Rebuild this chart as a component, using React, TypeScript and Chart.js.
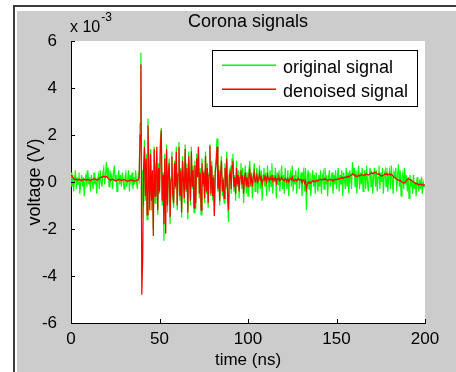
import React, { useEffect, useRef } from "react";
import { Chart, registerables } from "chart.js";

Chart.register(...registerables);

// sample spacing in ns
const dt = 0.5;

// values in units of 1e-3 V
const originalSignal = [
  0.4, -0.2, 0.3, -0.4, 0.1, 0.5, -0.3, 0.2, -0.1, 0.4, -0.5, 0.0, 0.3, -0.2, 0.2, -0.6, 0.1, 0.3, -0.2, 0.5,
  -0.1, 0.2, -0.4, 0.3, 0.0, -0.3, 0.4, -0.1, 0.2, -0.5, 0.1, 0.3, -0.3, 0.5, 0.0, -0.2, 0.4, 0.6, -0.1, 0.3,
  0.85, 0.2, 0.6, -0.2, 0.5, 0.1, 0.3, -0.3, 0.4, 0.7, 0.0, 0.3, -0.4, 0.2, 0.5, -0.1, 0.3, -0.2, 0.4, 0.1,
  -0.3, 0.2, 0.4, -0.2, 0.1, 0.5, -0.4, 0.3, 0.0, 0.4, -0.3, 0.2, -0.1, 0.5, 0.0, -0.3, 0.3, 0.1, 2.5, 5.5,
  -1.5, 0.5, -1.0, 1.8, -0.8, 1.2, -1.6, 2.7, 0.9, -0.6, 1.4, -1.2, 0.3, -2.0, 1.5, -0.9, 0.6, 1.1, -1.4, 0.8,
  -0.5, 1.8, 2.3, -1.0, 0.4, -2.5, 1.2, -0.7, 1.6, -1.3, 0.5, 1.0, -1.8, 0.2, 1.3, -0.6, -1.1, 0.9, -0.3, 1.5,
  -1.2, 0.4, 1.7, -0.8, 0.6, -1.5, 1.1, 0.2, -0.9, 1.6, -0.4, 0.8, -1.6, 1.3, 0.1, -1.0, 1.5, -0.3, 0.7, -1.3,
  0.9, -1.15, 1.2, 0.3, 1.5, -0.7, 0.6, -1.4, 1.0, -0.2, 0.5, -0.9, 1.3, -0.5, 0.8, -1.1, 0.4, 1.6, -0.6, 0.9,
  -0.8, 0.3, -1.45, 0.6, 1.0, 1.85, -0.4, 0.7, -1.0, 0.4, 1.1, -0.6, 0.2, -0.9, 0.8, -0.3, 1.3, -0.8, -1.7, 0.5,
  0.6, -0.5, 1.0, 1.2, -0.4, 0.3, -0.8, 0.9, -0.2, 0.5, -0.7, 0.4, 0.8, -0.3, 0.6, -0.9, 0.2, 0.7, -0.5, 0.4,
  -0.6, 0.5, 0.9, -0.2, 0.4, -0.7, 0.3, 0.8, -0.4, 0.2, 0.6, -0.5, 0.1, 0.7, -0.3, 0.5, -0.8, 0.3, 0.6, -0.2,
  0.4, -0.6, 0.7, 0.1, -0.4, 0.5, -0.2, 0.8, -0.5, 0.3, 0.0, 0.6, -0.7, 0.4, -0.1, 0.5, -0.4, 0.2, 0.7, -0.3,
  0.3, -0.5, 0.6, 0.0, -0.3, 0.5, -0.6, 0.2, 0.4, -0.2, 0.7, -0.4, 0.3, -0.1, 0.5, -0.5, 0.2, 0.6, -0.3, 0.1,
  0.4, -0.6, 0.3, 0.5, -0.4, 0.6, -1.2, 0.2, 0.5, -0.3, 0.4, -0.6, 0.1, 0.5, -0.2, 0.3, -0.5, 0.4, 0.0, -0.4,
  0.3, -0.2, 0.5, -0.5, 0.2, 0.4, -0.3, 0.6, -0.1, 0.3, -0.6, 0.2, 0.5, -0.2, 0.1, 0.4, -0.5, 0.3, -0.1, 0.5,
  -0.3, 0.2, 0.6, -0.4, 0.3, -0.1, 0.5, -0.6, 0.4, 0.1, -0.3, 0.6, -0.2, 0.4, -0.5, 0.5, 0.2, -0.3, 0.85, 0.3,
  0.6, -0.2, 0.5, -0.5, 0.3, 0.7, -0.3, 0.4, -0.1, 0.6, -0.4, 0.2, 0.5, -0.3, 0.7, 0.0, -0.4, 0.3, 0.6, -0.2,
  0.4, -0.5, 0.3, 0.6, -0.2, 0.5, -0.4, 0.2, 0.7, -0.3, 0.4, 0.0, 0.6, -0.5, 0.3, 0.5, -0.2, 0.6, -0.4, 0.3,
  0.5, -0.3, 0.7, 0.1, -0.5, 0.4, 0.2, 0.6, -0.4, 0.3, 0.75, -0.2, 0.5, -0.6, 0.2, 0.4, -0.3, 0.6, -0.1, 0.3,
  -0.4, 0.2, -0.7, 0.3, -0.2, 0.1, -0.5, 0.3, -0.3, 0.0, -0.6, 0.2, -0.1, -0.4, 0.1, -0.3, 0.2, -0.5, 0.0, -0.2,
  -0.2,
];

const denoisedSignal = [
  0.3, 0.25, 0.2, 0.15, 0.1, 0.12, 0.1, 0.08, 0.1, 0.12, 0.1, 0.08, 0.05, 0.08, 0.1, 0.12, 0.1, 0.08, 0.1, 0.12,
  0.1, 0.08, 0.06, 0.08, 0.1, 0.12, 0.14, 0.12, 0.1, 0.08, 0.1, 0.12, 0.15, 0.18, 0.2, 0.22, 0.2, 0.25, 0.22, 0.2,
  0.25, 0.2, 0.15, 0.12, 0.1, 0.08, 0.1, 0.12, 0.1, 0.08, 0.06, 0.05, 0.08, 0.1, 0.12, 0.1, 0.08, 0.06, 0.08, 0.1,
  0.1, 0.08, 0.06, 0.05, 0.04, 0.05, 0.06, 0.08, 0.1, 0.08, 0.06, 0.05, 0.04, 0.05, 0.06, 0.08, 0.1, 0.2, 2.0, 5.0,
  -4.8, -3.3, 0.6, 1.5, -0.6, 1.0, -1.4, 2.4, 0.5, -1.2, 1.2, -0.8, 0.5, -2.3, 1.4, -0.6, 0.3, 1.5, -1.2, 0.6,
  -0.4, 1.5, 2.2, -0.8, 0.3, -1.8, 1.0, -2.2, 1.4, -1.0, 0.4, 0.8, -1.5, 0.1, 1.1, -0.5, -0.9, 0.8, -0.2, 1.3,
  -1.0, 0.3, 1.5, -0.6, 0.5, -1.3, 0.9, 0.1, -0.7, 1.4, -0.3, 0.6, -1.3, 1.1, 0.1, -0.8, 1.3, -0.2, 0.5, -1.1,
  0.7, -0.9, 1.0, 0.2, 1.5, -0.5, 0.4, -1.2, 0.8, -0.1, 0.4, -0.7, 1.1, -0.4, 0.6, -0.9, 0.3, 1.55, -0.5, 0.7,
  -0.6, 0.2, -1.45, 0.4, 0.8, 1.5, -0.3, 0.5, -0.8, 0.3, 0.9, -0.4, 0.1, -0.7, 0.6, -0.2, 1.0, -0.6, -1.2, 0.3,
  0.4, -0.3, 0.7, 0.9, -0.2, 0.2, -0.5, 0.6, -0.1, 0.3, -0.4, 0.2, 0.5, -0.1, 0.3, -0.5, 0.1, 0.4, -0.2, 0.2,
  -0.2, 0.3, 0.5, 0.0, 0.2, -0.2, 0.2, 0.4, 0.0, 0.1, 0.3, 0.0, 0.1, 0.35, 0.1, 0.2, -0.1, 0.1, 0.3, 0.1,
  0.2, 0.0, 0.3, 0.15, 0.05, 0.2, 0.1, 0.3, 0.05, 0.15, 0.1, 0.2, -0.05, 0.15, 0.1, 0.2, 0.05, 0.1, 0.2, 0.1,
  0.1, 0.05, 0.15, 0.1, 0.05, 0.15, 0.0, 0.1, 0.15, 0.1, 0.2, 0.05, 0.1, 0.08, 0.12, 0.05, 0.1, 0.15, 0.08, 0.1,
  0.1, 0.0, 0.05, 0.1, -0.05, 0.05, -0.3, -0.1, 0.0, -0.05, 0.0, -0.05, 0.0, 0.05, 0.02, 0.05, 0.0, 0.05, 0.08, 0.05,
  0.08, 0.1, 0.12, 0.08, 0.1, 0.12, 0.1, 0.15, 0.12, 0.1, 0.05, 0.08, 0.12, 0.1, 0.08, 0.1, 0.05, 0.08, 0.1, 0.12,
  0.1, 0.12, 0.15, 0.12, 0.15, 0.18, 0.2, 0.15, 0.18, 0.2, 0.18, 0.22, 0.2, 0.25, 0.22, 0.25, 0.28, 0.3, 0.35, 0.3,
  0.3, 0.25, 0.28, 0.22, 0.25, 0.3, 0.25, 0.28, 0.3, 0.32, 0.3, 0.28, 0.32, 0.3, 0.35, 0.32, 0.3, 0.32, 0.35, 0.38,
  0.4, 0.35, 0.38, 0.42, 0.4, 0.38, 0.35, 0.32, 0.35, 0.3, 0.28, 0.25, 0.28, 0.3, 0.32, 0.35, 0.32, 0.35, 0.3, 0.32,
  0.35, 0.3, 0.32, 0.3, 0.25, 0.2, 0.18, 0.15, 0.12, 0.1, 0.08, 0.05, 0.08, 0.02, 0.0, -0.02, -0.05, -0.02, 0.0, 0.05,
  0.1, 0.15, 0.12, 0.1, 0.08, 0.05, 0.02, 0.0, -0.02, -0.05, -0.08, -0.05, -0.1, -0.12, -0.1, -0.08, -0.12, -0.1, -0.15, -0.12,
  -0.12,
];

const xTicks = [0, 50, 100, 150, 200];
const yTicks = [-6, -4, -2, 0, 2, 4, 6];
const seriesLabels = ["original signal", "denoised signal"];
const seriesColors = ["#00ff00", "#ff0000"];
const titleText = "Corona signals";
const xTitle = "time (ns)";
const yTitle = "voltage (V)";
const exponentText = "-3";

const FONT = "'Liberation Sans', Arial, Helvetica, sans-serif";

const toPoints = (vals: number[]) => vals.map((v, i) => ({ x: i * dt, y: v }));

const decorPlugin = {
  id: "decor",
  beforeDraw(chart: any) {
    const ctx = chart.ctx;
    const { width, height, chartArea } = chart;
    ctx.save();
    ctx.fillStyle = "#ffffff";
    ctx.fillRect(0, 0, width, height);
    ctx.fillStyle = "#3c3c3c";
    ctx.fillRect(13, 5, width - 13, 2);
    ctx.fillRect(13, 5, 2, height - 5);
    ctx.fillStyle = "#cccccc";
    ctx.fillRect(17, 11, width - 17, height - 11);
    ctx.fillStyle = "#ffffff";
    ctx.fillRect(chartArea.left, chartArea.top, chartArea.right - chartArea.left, chartArea.bottom - chartArea.top);
    ctx.restore();
  },
  afterDraw(chart: any) {
    const ctx = chart.ctx;
    const { chartArea } = chart;
    const xs = chart.scales.x;
    const ys = chart.scales.y;
    ctx.save();
    ctx.setLineDash([]);
    ctx.globalAlpha = 1;
    // inward ticks
    ctx.strokeStyle = "#000";
    ctx.lineWidth = 1;
    ctx.beginPath();
    yTicks.forEach((v) => {
      const py = Math.round(ys.getPixelForValue(v)) + 0.5;
      ctx.moveTo(chartArea.left, py);
      ctx.lineTo(chartArea.left + 4, py);
    });
    xTicks.forEach((v) => {
      const px = Math.round(xs.getPixelForValue(v)) + 0.5;
      ctx.moveTo(px, chartArea.bottom);
      ctx.lineTo(px, chartArea.bottom - 4);
    });
    ctx.stroke();

    const cx = (chartArea.left + chartArea.right) / 2;
    ctx.fillStyle = "#000";
    // title
    ctx.font = `18px ${FONT}`;
    ctx.textAlign = "center";
    ctx.textBaseline = "alphabetic";
    ctx.fillText(titleText, cx, 27);
    // x title
    ctx.font = `17px ${FONT}`;
    ctx.fillText(xTitle, cx, 365);
    // y title
    ctx.save();
    ctx.translate(40, (chartArea.top + chartArea.bottom) / 2);
    ctx.rotate(-Math.PI / 2);
    ctx.font = `18px ${FONT}`;
    ctx.textAlign = "center";
    ctx.fillText(yTitle, 0, 0);
    ctx.restore();
    // exponent
    ctx.textAlign = "left";
    ctx.font = `16px ${FONT}`;
    ctx.fillText("x 10", 70, 32);
    const w = ctx.measureText("x 10").width;
    ctx.font = `12px ${FONT}`;
    ctx.fillText(exponentText, 70 + w + 1, 21);

    // legend
    const lx = 212, ly = 50, lw = 205, lh = 56;
    ctx.fillStyle = "#fff";
    ctx.fillRect(lx, ly, lw, lh);
    ctx.strokeStyle = "#000";
    ctx.lineWidth = 1;
    ctx.strokeRect(lx + 0.5, ly + 0.5, lw, lh);
    const rows = [65, 89];
    seriesLabels.forEach((label, i) => {
      ctx.fillStyle = seriesColors[i];
      ctx.fillRect(222, rows[i] - 0.5, 54, 1.5);
      ctx.fillStyle = "#000";
      ctx.font = `18px ${FONT}`;
      ctx.textAlign = "left";
      ctx.textBaseline = "alphabetic";
      ctx.fillText(label, 283, rows[i] + 8);
    });
    ctx.restore();
  },
};

export default function App() {
  const canvasRef = useRef<HTMLCanvasElement | null>(null);

  useEffect(() => {
    const canvas = canvasRef.current;
    if (!canvas) return;
    const chart = new Chart(canvas, {
      type: "line",
      data: {
        datasets: [
          {
            label: seriesLabels[0],
            data: toPoints(originalSignal),
            borderColor: seriesColors[0],
            borderWidth: 1.2,
            pointRadius: 0,
            fill: false,
            tension: 0,
            order: 1,
          },
          {
            label: seriesLabels[1],
            data: toPoints(denoisedSignal),
            borderColor: seriesColors[1],
            borderWidth: 1.2,
            pointRadius: 0,
            fill: false,
            tension: 0,
            order: 0,
          },
        ],
      },
      options: {
        animation: false,
        responsive: false,
        devicePixelRatio: 1,
        layout: { padding: { top: 41, right: 31, left: 0, bottom: 0 } },
        plugins: {
          legend: { display: false },
          tooltip: { enabled: false },
          title: { display: false },
        },
        scales: {
          x: {
            type: "linear",
            min: 0,
            max: 200,
            afterBuildTicks: (s: any) => {
              s.ticks = xTicks.map((v) => ({ value: v }));
            },
            afterFit: (s: any) => {
              s.height = 49;
            },
            grid: { display: false },
            border: { display: true, color: "#000", width: 1 },
            ticks: {
              color: "#000",
              font: { family: FONT, size: 17 },
              padding: -2,
              maxRotation: 0,
              autoSkip: false,
            },
          },
          y: {
            type: "linear",
            min: -6,
            max: 6,
            afterBuildTicks: (s: any) => {
              s.ticks = yTicks.map((v) => ({ value: v }));
            },
            afterFit: (s: any) => {
              s.width = 71;
            },
            grid: { display: false },
            border: { display: true, color: "#000", width: 1 },
            ticks: {
              color: "#000",
              font: { family: FONT, size: 17 },
              padding: 6,
              autoSkip: false,
            },
          },
        },
      },
      plugins: [decorPlugin],
    });
    return () => chart.destroy();
  }, []);

  return (
    <div style={{ position: "fixed", left: 0, top: 0, width: 456, height: 372 }}>
      <canvas ref={canvasRef} width={456} height={372} style={{ display: "block" }} />
    </div>
  );
}
